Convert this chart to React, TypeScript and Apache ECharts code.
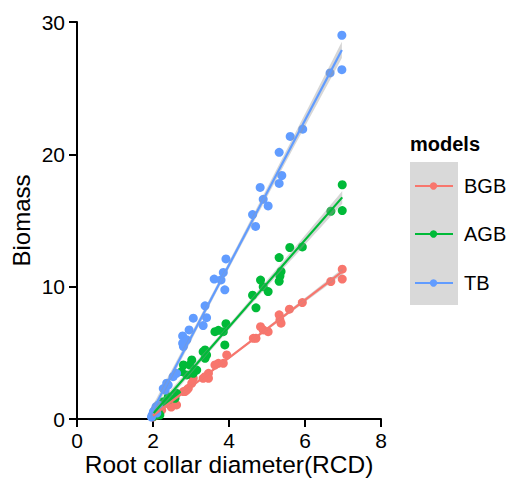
import React, { useEffect, useRef } from "react";
import * as echarts from "echarts";

const xTicks = [0, 2, 4, 6, 8];
const yTicks = [0, 10, 20, 30];
const modelNames = ["BGB", "AGB", "TB"];
const modelColors = ["#F8766D", "#00BA38", "#619CFF"];

const bgbRcd = [6.98, 6.98, 6.68, 5.93, 5.59, 5.32, 5.34, 5.37, 4.83, 5.03, 4.9, 4.64, 4.71, 3.94, 3.72, 3.85, 3.63, 3.37, 3.46, 3.46, 3.32, 3.06, 3.02, 2.89, 2.93, 2.8, 2.84, 2.62, 2.53, 2.36, 2.23, 2.48, 2.1, 2.0, 2.05, 2.15];
const bgbMass = [11.32, 10.57, 10.39, 8.8, 8.3, 7.87, 7.49, 7.24, 6.98, 6.6, 6.73, 6.1, 6.1, 4.84, 4.21, 4.21, 4.08, 3.2, 3.07, 3.45, 3.07, 3.07, 2.7, 2.19, 2.32, 2.07, 2.07, 1.06, 1.44, 1.18, 0.68, 0.9, 0.3, 0.15, 0.45, 0.55];

const agbRcd = [6.98, 6.98, 6.68, 5.93, 5.6, 5.32, 5.37, 5.34, 5.32, 5.03, 4.83, 4.9, 4.62, 4.71, 3.92, 3.85, 3.63, 3.72, 3.89, 3.37, 3.32, 3.37, 3.41, 3.02, 2.8, 2.97, 2.75, 3.06, 3.15, 2.89, 2.62, 2.58, 2.4, 2.4, 2.27, 2.1, 2.14, 2.18, 2.02];
const agbMass = [17.7, 15.75, 15.7, 13.0, 12.96, 12.2, 11.15, 10.8, 10.4, 9.63, 10.5, 10.0, 9.35, 8.4, 7.2, 6.6, 6.6, 6.7, 5.6, 5.22, 5.09, 4.59, 4.84, 4.46, 4.08, 4.08, 3.58, 3.45, 3.7, 3.33, 1.94, 1.56, 1.69, 1.44, 1.31, 0.68, 0.5, 0.3, 0.2];

const tbRcd = [6.97, 6.97, 6.66, 5.94, 5.61, 5.32, 5.39, 5.32, 4.82, 4.9, 5.03, 4.62, 4.7, 3.92, 3.85, 3.61, 3.79, 3.89, 3.37, 3.41, 3.06, 3.32, 2.95, 2.78, 2.89, 2.8, 2.78, 2.53, 2.36, 2.27, 2.62, 2.4, 2.32, 2.08, 2.01, 2.14, 1.98, 2.05, 2.1, 1.96];
const tbMass = [29.0, 26.4, 26.15, 21.9, 21.35, 20.15, 18.4, 17.8, 17.5, 16.6, 16.1, 15.45, 14.55, 12.1, 11.07, 10.57, 10.51, 9.76, 8.55, 7.66, 7.62, 7.06, 6.73, 6.28, 5.98, 5.47, 5.73, 3.2, 2.7, 2.3, 3.45, 2.57, 2.19, 0.93, 0.55, 1.06, 0.3, 0.7, 0.45, 0.15];

const seriesX = [bgbRcd, agbRcd, tbRcd];
const seriesY = [bgbMass, agbMass, tbMass];

function fitLine(xs: number[], ys: number[]) {
  const n = xs.length;
  const mx = xs.reduce((a, b) => a + b, 0) / n;
  const my = ys.reduce((a, b) => a + b, 0) / n;
  let sxx = 0, sxy = 0;
  for (let i = 0; i < n; i++) {
    sxx += (xs[i] - mx) ** 2;
    sxy += (xs[i] - mx) * (ys[i] - my);
  }
  const b = sxy / sxx;
  const a = my - b * mx;
  let sse = 0;
  for (let i = 0; i < n; i++) sse += (ys[i] - (a + b * xs[i])) ** 2;
  const s = Math.sqrt(sse / (n - 2));
  const t = 2.03;
  const lo = Math.min(...xs);
  const hi = Math.max(...xs);
  const upper: number[][] = [];
  const lower: number[][] = [];
  const steps = 40;
  for (let k = 0; k <= steps; k++) {
    const x = lo + ((hi - lo) * k) / steps;
    const yh = a + b * x;
    const se = t * s * Math.sqrt(1 / n + (x - mx) ** 2 / sxx);
    upper.push([x, yh + se]);
    lower.push([x, yh - se]);
  }
  return {
    line: [[lo, a + b * lo], [hi, a + b * hi]],
    band: upper.concat(lower.reverse()),
  };
}

const FONT = "'Liberation Sans', Arial, sans-serif";

export default function App() {
  const ref = useRef<HTMLDivElement>(null);
  useEffect(() => {
    if (!ref.current) return;
    const chart = echarts.init(ref.current, null, { renderer: "svg" });
    const fits = seriesX.map((xs, i) => fitLine(xs, seriesY[i]));
    const series: any[] = [];
    modelNames.forEach((name, i) => {
      series.push({
        name,
        type: "scatter",
        data: seriesX[i].map((x, j) => [x, seriesY[i][j]]),
        symbolSize: 9,
        itemStyle: { color: modelColors[i], opacity: 1 },
        z: 2,
      });
    });
    modelNames.forEach((name, i) => {
      const band = fits[i].band;
      series.push({
        name: name + "-band",
        type: "custom",
        coordinateSystem: "cartesian2d",
        data: [[band[0][0], band[0][1]]],
        renderItem: (_p: any, api: any) => ({
          type: "polygon",
          shape: { points: band.map((p) => api.coord(p)) },
          style: { fill: "rgba(153,153,153,0.4)" },
        }),
        silent: true,
        z: 3,
      });
      series.push({
        name: name + "-fit",
        type: "line",
        data: fits[i].line,
        showSymbol: false,
        symbol: "none",
        lineStyle: { color: modelColors[i], width: 2.2 },
        z: 4,
      });
    });

    const legendYs = [186, 234, 283];
    const legendEls: any[] = [
      {
        type: "text",
        left: 410,
        top: 134,
        style: { text: "models", font: `bold 20px ${FONT}`, fill: "#000" },
      },
      {
        type: "rect",
        shape: { x: 410, y: 162, width: 48, height: 143 },
        style: { fill: "#D9D9D9" },
      },
    ];
    modelNames.forEach((name, i) => {
      const y = legendYs[i];
      legendEls.push({
        type: "line",
        shape: { x1: 415, y1: y, x2: 453, y2: y },
        style: { stroke: modelColors[i], lineWidth: 2.2 },
      });
      legendEls.push({
        type: "circle",
        shape: { cx: 433.5, cy: y, r: 3.7 },
        style: { fill: modelColors[i] },
      });
      legendEls.push({
        type: "text",
        x: 464,
        y: y,
        style: {
          text: name,
          font: `20px ${FONT}`,
          fill: "#000",
          textVerticalAlign: "middle",
          verticalAlign: "middle",
        },
      });
    });

    chart.setOption({
      animation: false,
      backgroundColor: "#fff",
      grid: {
        left: 77,
        right: 127,
        top: 22,
        bottom: 59,
        containLabel: false,
        outerBoundsMode: "none",
      },
      xAxis: {
        type: "value",
        min: xTicks[0],
        max: xTicks[xTicks.length - 1],
        interval: 2,
        name: "Root collar diameter(RCD)",
        nameLocation: "middle",
        nameGap: 35,
        nameMoveOverlap: false,
        nameTextStyle: { fontFamily: FONT, fontSize: 24.5, lineHeight: 20, color: "#000" },
        axisLine: { show: true, lineStyle: { color: "#000", width: 2 } },
        axisTick: { show: true, length: 8, lineStyle: { color: "#000", width: 2 } },
        axisLabel: { fontFamily: FONT, fontSize: 21, color: "#000", margin: 11 },
        splitLine: { show: false },
      },
      yAxis: {
        type: "value",
        min: yTicks[0],
        max: yTicks[yTicks.length - 1],
        interval: 10,
        name: "Biomass",
        nameLocation: "middle",
        nameGap: 44,
        nameMoveOverlap: false,
        nameTextStyle: { fontFamily: FONT, fontSize: 24, color: "#000" },
        axisLine: { show: true, lineStyle: { color: "#000", width: 2 } },
        axisTick: { show: true, length: 8, lineStyle: { color: "#000", width: 2 } },
        axisLabel: { fontFamily: FONT, fontSize: 21, color: "#000", margin: 12 },
        splitLine: { show: false },
      },
      graphic: legendEls,
      series,
    });
    return () => chart.dispose();
  }, []);
  return (
    <div
      ref={ref}
      style={{ position: "fixed", left: 0, top: 0, width: 508, height: 478 }}
    />
  );
}
